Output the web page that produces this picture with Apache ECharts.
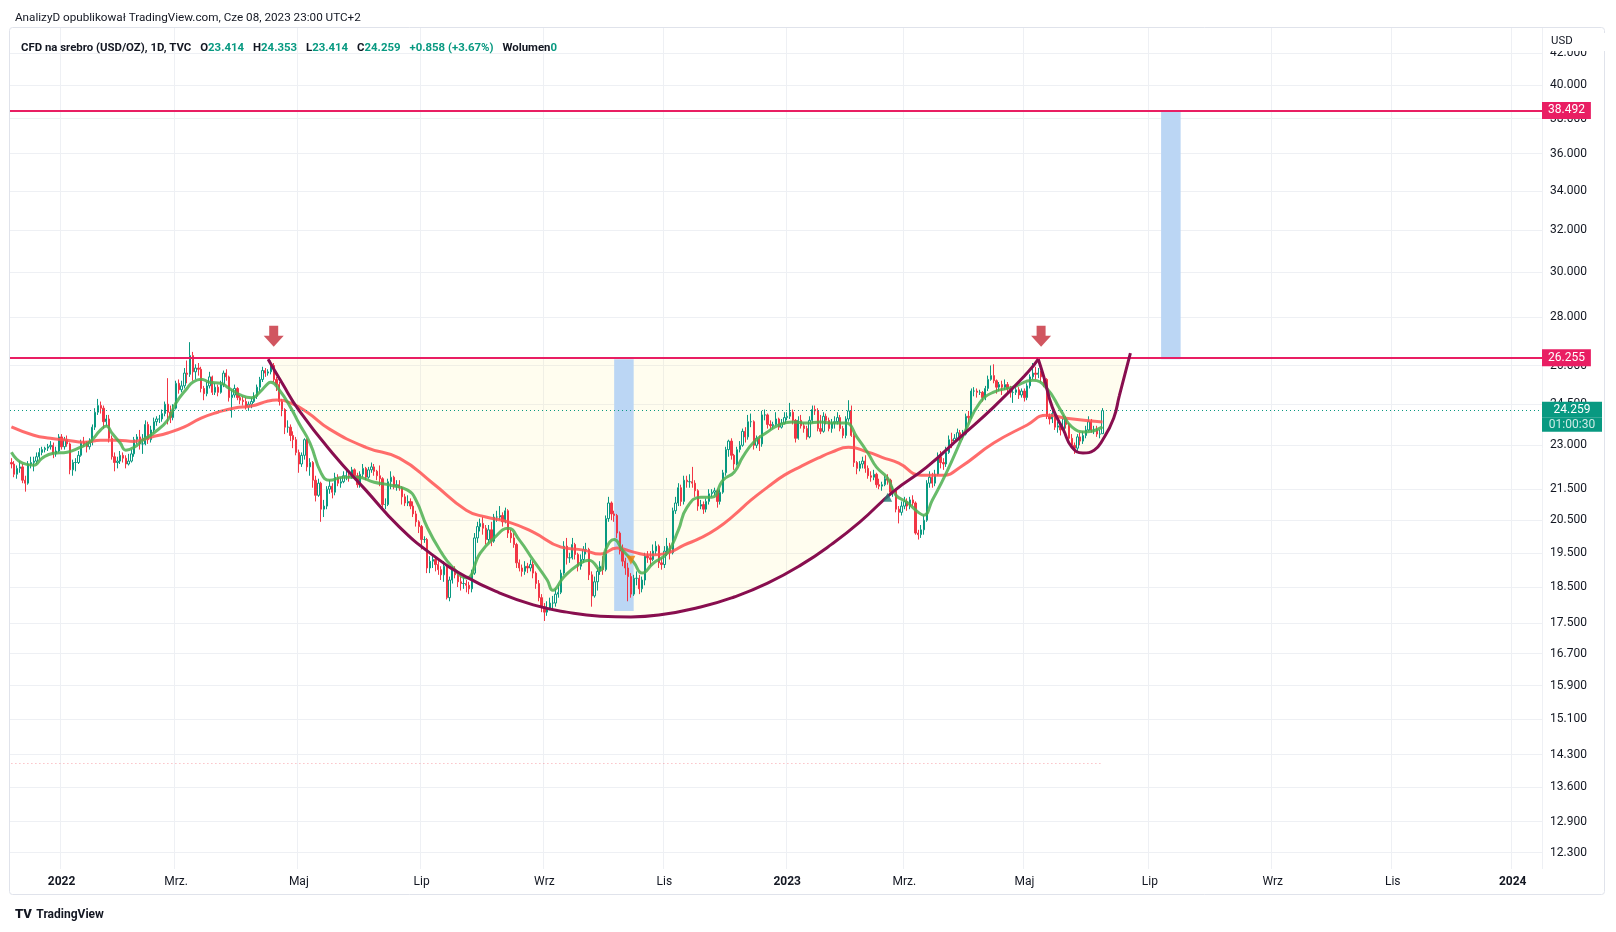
<!DOCTYPE html>
<html><head><meta charset="utf-8">
<script src="https://cdn.jsdelivr.net/npm/echarts@6/dist/echarts.min.js"></script>
<style>html,body{margin:0;padding:0;background:#fff}#c{width:1616px;height:932px}</style>
</head><body><div id="c"></div>
<script>
// ---------- DATA ----------
const firstDay = [2021, 11, 8];      // first visible trading day (Dec 8 2021)
const categoryCount = 549;           // weekdays shown on the time scale (to Jan 15 2024)
const tickDates  = ['2022-01-03','2022-03-01','2022-05-02','2022-07-01','2022-09-01','2022-11-01','2023-01-02','2023-03-01','2023-05-01','2023-07-03','2023-09-01','2023-11-01','2024-01-01'];
const tickLabels = ['2022','Mrz.','Maj','Lip','Wrz','Lis','2023','Mrz.','Maj','Lip','Wrz','Lis','2024'];
const priceTicks = [42,40,38,36,34,32,30,28,26,24.5,23,21.5,20.5,19.5,18.5,17.5,16.7,15.9,15.1,14.3,13.6,12.9,12.3];
const priceMin = 11.996, priceMax = 43.67;

const opens = [
22.40,22.35,22.00,
22.20,22.25,21.80,21.70,22.35,
22.40,22.45,22.60,22.75,22.85,
22.90,22.95,23.00,22.70,22.80,
23.30,22.95,23.20,23.05,22.15,
22.40,22.40,22.65,23.10,23.05,
22.95,23.10,23.65,24.20,24.45,
24.35,23.85,23.95,23.25,22.60,
22.40,22.45,22.65,22.55,22.35,
22.45,22.70,23.20,23.30,23.05,
23.05,23.75,23.20,23.55,23.85,
23.95,23.95,24.15,24.50,24.20,
24.00,24.35,25.30,25.05,25.20,
25.70,25.65,26.40,25.75,25.90,
25.85,25.10,24.90,25.20,25.55,
24.95,25.15,24.95,25.25,25.70,
25.55,24.75,24.85,25.10,24.75,
24.65,24.60,24.40,24.50,24.60,
24.80,25.15,25.45,25.80,25.70,
25.75,26.00,25.45,25.25,24.60,
24.30,23.65,23.65,23.35,23.20,
22.75,22.35,22.65,23.20,22.25,
22.40,21.80,21.30,21.70,20.85,
20.95,21.50,21.60,21.40,21.90,
21.70,21.75,21.95,21.95,21.90,
22.15,21.95,21.65,22.00,22.20,
21.90,22.15,22.25,22.10,21.95,
21.85,21.00,21.00,21.75,21.90,
21.60,21.65,21.55,21.25,21.05,
21.10,20.95,20.70,20.45,20.30,
19.90,19.90,19.05,19.25,19.30,
19.15,19.00,18.85,19.10,18.20,
18.70,19.00,18.85,18.65,18.60,
18.60,18.55,18.45,18.90,19.95,
20.30,20.40,20.25,19.90,20.20,
19.85,20.60,20.60,20.65,20.45,
20.80,20.10,19.95,19.75,19.20,
19.05,18.95,19.10,19.05,19.15,
18.90,18.60,18.20,17.95,17.80,
17.90,18.05,18.05,18.30,18.35,
18.90,19.70,19.35,19.35,19.75,
19.45,19.10,19.30,19.60,19.60,
18.85,18.25,18.65,18.95,19.10,
19.00,20.55,21.05,20.70,20.65,
20.10,19.55,19.25,19.05,18.80,
18.30,18.75,18.75,18.45,18.70,
19.40,19.35,19.30,19.55,19.70,
19.20,19.15,19.55,19.70,19.50,
20.80,21.05,21.55,21.10,21.80,
21.75,21.75,21.70,21.45,20.95,
21.00,20.85,21.10,21.35,21.40,
21.45,21.10,21.40,22.05,22.85,
23.15,22.65,22.35,22.85,23.00,
23.50,23.30,23.85,23.85,23.00,
23.25,23.05,24.10,24.10,23.75,
23.70,23.75,23.95,23.65,23.80,
24.00,24.05,24.20,23.90,23.25,
23.90,23.70,23.60,23.30,23.90,
24.30,24.25,23.60,23.50,24.05,
23.90,23.60,23.80,23.85,24.00,
23.60,23.35,23.95,24.25,23.35,
22.40,22.20,22.35,22.45,22.20,
21.95,21.90,22.00,21.65,21.60,
21.65,21.85,21.80,21.40,21.45,
20.85,20.75,20.95,21.10,20.95,
21.15,21.05,20.10,20.05,20.20,
20.50,21.70,21.90,21.70,22.00,
22.60,22.40,22.35,22.75,23.20,
23.15,23.25,23.45,23.30,23.40,
24.05,24.00,25.00,25.00,24.95,
24.95,24.75,25.10,25.45,25.60,
25.40,25.15,25.25,25.15,25.25,
25.10,24.95,24.95,25.05,24.85,
25.00,24.75,25.20,25.55,25.70,
25.65,25.70,25.55,25.45,24.05,
23.95,24.15,23.65,23.70,23.55,
23.95,23.75,23.25,23.00,22.90,
23.30,23.15,23.35,23.55,23.85,
23.55,23.55,23.40,23.414];

const highs = [
22.55,22.45,22.30,
22.45,22.35,21.95,22.45,22.60,
22.60,22.75,22.90,22.95,22.95,
23.05,23.15,23.10,22.95,23.40,
23.40,23.30,23.35,23.10,22.50,
22.55,22.80,23.20,23.30,23.15,
23.25,23.75,24.35,24.70,24.60,
24.45,24.10,24.10,23.35,22.75,
22.60,22.80,22.75,22.65,22.70,
22.85,23.30,23.40,23.55,23.40,
23.90,23.85,23.70,24.00,24.05,
24.10,24.30,24.60,25.50,24.45,
24.50,25.40,25.45,25.40,25.90,
26.20,26.95,26.55,26.05,26.10,
25.95,25.20,25.35,25.75,25.60,
25.30,25.25,25.40,25.80,25.85,
25.60,25.05,25.25,25.15,24.85,
24.80,24.75,24.60,24.75,24.95,
25.25,25.55,25.95,25.90,25.85,
26.20,26.10,25.55,25.35,24.70,
24.35,23.90,23.75,23.50,23.30,
22.85,22.75,23.25,23.25,22.55,
22.45,21.95,21.85,21.75,21.15,
21.60,21.80,21.70,22.05,22.00,
21.90,22.10,22.15,22.05,22.25,
22.20,22.05,22.10,22.35,22.25,
22.25,22.40,22.35,22.15,22.30,
21.90,21.20,21.85,22.10,21.95,
21.80,21.80,21.60,21.35,21.30,
21.20,21.10,20.80,20.50,20.35,
20.00,19.95,19.40,19.45,19.40,
19.25,19.10,19.25,19.15,18.80,
19.10,19.10,18.95,18.80,18.85,
18.70,18.65,19.00,20.10,20.45,
20.55,20.60,20.35,20.35,20.45,
20.70,20.80,20.95,20.75,20.90,
20.85,20.20,20.10,19.80,19.30,
19.15,19.25,19.20,19.30,19.25,
18.95,18.70,18.30,18.05,18.10,
18.20,18.25,18.45,18.55,19.00,
19.85,19.95,19.50,19.95,19.80,
19.50,19.45,19.70,19.80,19.65,
18.95,18.80,19.05,19.25,19.40,
20.65,21.25,21.10,20.80,20.70,
20.15,19.75,19.35,19.20,18.90,
18.85,18.95,18.85,18.80,19.50,
19.55,19.55,19.75,19.85,19.75,
19.35,19.70,19.95,19.80,20.90,
21.25,21.70,21.65,21.95,21.95,
22.00,22.25,21.80,21.50,21.15,
21.10,21.20,21.50,21.50,21.55,
21.50,21.50,22.15,22.95,23.20,
23.25,22.70,22.95,23.15,23.60,
23.65,24.10,24.15,23.90,23.35,
23.35,24.25,24.30,24.15,23.90,
23.85,24.20,24.00,23.95,24.20,
24.20,24.55,24.30,23.95,24.05,
24.10,23.80,23.70,24.05,24.45,
24.45,24.35,24.10,24.20,24.15,
24.00,23.95,24.05,24.20,24.10,
23.70,24.05,24.65,24.45,23.45,
22.45,22.45,22.60,22.65,22.30,
22.10,22.15,22.05,21.85,21.75,
21.95,22.00,21.85,21.60,21.50,
20.95,21.10,21.25,21.20,21.25,
21.30,21.10,20.20,20.35,20.65,
21.80,22.10,22.05,22.15,22.75,
22.80,22.55,22.95,23.35,23.45,
23.40,23.60,23.55,23.55,24.15,
24.25,25.10,25.15,25.10,25.05,
25.00,25.20,25.60,26.00,26.05,
25.45,25.35,25.40,25.45,25.35,
25.20,25.15,25.20,25.15,25.10,
25.10,25.30,25.65,26.10,25.95,
25.90,25.80,25.70,25.50,24.15,
24.25,24.20,23.85,23.80,24.10,
24.05,23.80,23.40,23.10,23.40,
23.45,23.50,23.70,24.05,23.95,
23.70,23.70,23.55,24.353];

const lows = [
22.20,21.90,21.85,
22.05,21.70,21.42,21.65,22.20,
22.10,22.35,22.50,22.65,22.75,
22.80,22.85,22.55,22.60,22.75,
22.85,22.85,22.95,22.00,21.95,
22.10,22.35,22.60,22.95,22.75,
22.85,23.00,23.55,24.10,24.15,
23.60,23.70,23.10,22.50,22.10,
22.20,22.35,22.40,22.20,22.30,
22.40,22.60,23.05,22.85,22.70,
23.00,23.05,23.10,23.45,23.70,
23.80,23.85,24.05,23.75,23.80,
23.90,24.30,24.90,24.95,25.10,
25.30,25.55,25.40,25.45,25.60,
24.95,24.65,24.80,25.10,24.85,
24.85,24.80,24.90,25.15,25.40,
24.60,24.00,24.75,24.65,24.50,
24.45,24.30,24.25,24.35,24.55,
24.70,25.00,25.35,25.55,25.60,
25.65,25.35,25.00,24.45,24.05,
23.40,23.45,23.15,22.90,22.65,
22.05,22.25,22.50,22.10,21.95,
21.55,21.10,21.25,20.45,20.60,
20.85,21.35,21.20,21.30,21.60,
21.55,21.70,21.80,21.75,21.85,
21.85,21.55,21.55,21.90,21.80,
21.85,22.05,21.95,21.80,21.60,
20.90,20.85,20.95,21.50,21.50,
21.45,21.45,21.00,20.95,20.95,
20.85,20.60,20.30,20.10,19.60,
19.80,18.90,18.90,19.05,18.95,
18.85,18.70,18.65,18.15,18.10,
18.60,18.75,18.50,18.40,18.45,
18.35,18.30,18.35,18.85,19.80,
20.15,20.05,19.75,19.80,19.70,
19.80,20.45,20.50,20.30,20.40,
19.95,19.80,19.65,19.05,18.95,
18.80,18.85,18.90,18.95,18.75,
18.45,18.10,17.80,17.56,17.70,
17.85,17.90,17.95,18.20,18.30,
18.85,19.15,19.20,19.30,19.30,
18.95,19.00,19.20,19.45,18.70,
17.95,18.20,18.40,18.85,18.85,
18.95,20.45,20.50,20.45,19.95,
19.45,19.10,18.85,18.10,18.20,
18.25,18.55,18.30,18.35,18.55,
19.20,19.10,19.25,19.45,19.05,
19.00,19.05,19.40,19.30,19.45,
20.70,20.95,20.95,21.00,21.55,
21.55,21.55,21.25,20.80,20.85,
20.70,20.75,21.00,21.25,21.30,
20.90,21.00,21.35,21.95,22.60,
22.50,22.15,22.30,22.75,22.95,
23.10,23.20,23.65,22.85,22.90,
22.80,22.95,23.90,23.60,23.55,
23.60,23.70,23.55,23.60,23.75,
23.90,23.95,23.75,23.10,23.20,
23.60,23.45,23.20,23.25,23.80,
24.10,23.50,23.40,23.45,23.75,
23.50,23.45,23.60,23.75,23.50,
23.25,23.25,23.85,23.30,22.25,
22.00,22.10,22.20,22.05,21.85,
21.75,21.80,21.55,21.50,21.45,
21.60,21.65,21.30,21.25,20.75,
20.40,20.65,20.85,20.80,20.85,
20.95,20.05,19.90,19.95,20.05,
20.45,21.55,21.55,21.60,21.95,
22.20,22.15,22.25,22.70,22.90,
23.05,23.20,23.15,23.20,23.35,
23.80,23.95,24.80,24.75,24.85,
24.60,24.65,25.00,25.40,25.30,
24.90,25.00,24.85,25.05,24.95,
24.75,24.55,24.85,24.70,24.75,
24.60,24.65,25.10,25.45,25.45,
25.50,25.35,25.15,23.95,23.75,
23.80,23.55,23.45,23.35,23.50,
23.60,23.15,22.90,22.70,22.80,
23.00,23.05,23.25,23.50,23.45,
23.40,23.30,23.25,23.414];

const closes = [
22.35,22.00,22.20,
22.25,21.80,21.70,22.35,22.40,
22.45,22.60,22.75,22.85,22.90,
22.95,23.00,22.70,22.80,23.30,
22.95,23.20,23.05,22.15,22.40,
22.40,22.65,23.10,23.05,22.95,
23.10,23.65,24.20,24.45,24.35,
23.85,23.95,23.25,22.60,22.40,
22.45,22.65,22.55,22.35,22.45,
22.70,23.20,23.30,23.05,23.05,
23.75,23.20,23.55,23.85,23.95,
23.95,24.15,24.50,24.20,24.00,
24.35,25.30,25.05,25.20,25.70,
25.65,26.40,25.75,25.90,25.85,
25.10,24.90,25.20,25.55,24.95,
25.15,24.95,25.25,25.70,25.55,
24.75,24.85,25.10,24.75,24.65,
24.60,24.40,24.50,24.60,24.80,
25.15,25.45,25.80,25.70,25.75,
26.00,25.45,25.25,24.60,24.30,
23.65,23.65,23.35,23.20,22.75,
22.35,22.65,23.20,22.25,22.40,
21.80,21.30,21.70,20.85,20.95,
21.50,21.60,21.40,21.90,21.70,
21.75,21.95,21.95,21.90,22.15,
21.95,21.65,22.00,22.20,21.90,
22.15,22.25,22.10,21.95,21.85,
21.00,21.00,21.75,21.90,21.60,
21.65,21.55,21.25,21.05,21.10,
20.95,20.70,20.45,20.30,19.90,
19.90,19.05,19.25,19.30,19.15,
19.00,18.85,19.10,18.20,18.70,
19.00,18.85,18.65,18.60,18.60,
18.55,18.45,18.90,19.95,20.30,
20.40,20.25,19.90,20.20,19.85,
20.60,20.60,20.65,20.45,20.80,
20.10,19.95,19.75,19.20,19.05,
18.95,19.10,19.05,19.15,18.90,
18.60,18.20,17.95,17.80,17.90,
18.05,18.05,18.30,18.35,18.90,
19.70,19.35,19.35,19.75,19.45,
19.10,19.30,19.60,19.60,18.85,
18.25,18.65,18.95,19.10,19.00,
20.55,21.05,20.70,20.65,20.10,
19.55,19.25,19.05,18.80,18.30,
18.75,18.75,18.45,18.70,19.40,
19.35,19.30,19.55,19.70,19.20,
19.15,19.55,19.70,19.50,20.80,
21.05,21.55,21.10,21.80,21.75,
21.75,21.70,21.45,20.95,21.00,
20.85,21.10,21.35,21.40,21.45,
21.10,21.40,22.05,22.85,23.15,
22.65,22.35,22.85,23.00,23.50,
23.30,23.85,23.85,23.00,23.25,
23.05,24.10,24.10,23.75,23.70,
23.75,23.95,23.65,23.80,24.00,
24.05,24.20,23.90,23.25,23.90,
23.70,23.60,23.30,23.90,24.30,
24.25,23.60,23.50,24.05,23.90,
23.60,23.80,23.85,24.00,23.60,
23.35,23.95,24.25,23.35,22.40,
22.20,22.35,22.45,22.20,21.95,
21.90,22.00,21.65,21.60,21.65,
21.85,21.80,21.40,21.45,20.85,
20.75,20.95,21.10,20.95,21.15,
21.05,20.10,20.05,20.20,20.50,
21.70,21.90,21.70,22.00,22.60,
22.40,22.35,22.75,23.20,23.15,
23.25,23.45,23.30,23.40,24.05,
24.00,25.00,25.00,24.95,24.95,
24.75,25.10,25.45,25.60,25.40,
25.15,25.25,25.15,25.25,25.10,
24.95,24.95,25.05,24.85,25.00,
24.75,25.20,25.55,25.70,25.65,
25.70,25.55,25.45,24.05,23.95,
24.15,23.65,23.70,23.55,23.95,
23.75,23.25,23.00,22.90,23.30,
23.15,23.35,23.55,23.85,23.55,
23.55,23.40,23.401,24.259];

// moving averages: [bar index, price]
const maFast = [[0,22.76],[4,22.38],[8,22.31],[11,22.55],[15,22.72],[20,22.76],[24,22.90],[28,23.11],[32,23.55],[34,23.69],[36,23.44],[39,23.08],[41,22.83],[44,22.93],[47,23.18],[51,23.44],[56,23.91],[59,24.55],[63,25.11],[65,25.34],[68,25.46],[71,25.34],[75,25.30],[78,25.11],[82,24.85],[86,24.74],[89,24.96],[92,25.30],[93,25.34],[96,25.04],[100,24.39],[103,23.80],[107,23.08],[111,22.04],[114,21.80],[119,21.90],[124,21.90],[130,21.73],[136,21.63],[142,21.47],[145,21.14],[149,20.28],[154,19.52],[158,19.08],[163,18.76],[168,19.49],[173,19.95],[178,20.25],[182,19.89],[187,19.28],[192,18.70],[194,18.41],[198,18.79],[203,19.14],[207,19.28],[211,18.99],[213,19.60],[216,19.90],[219,19.58],[223,19.22],[226,18.90],[230,19.19],[235,19.49],[239,20.19],[242,20.89],[247,21.24],[251,21.24],[255,21.80],[259,22.07],[262,22.58],[266,23.11],[271,23.48],[275,23.73],[280,23.84],[285,23.80],[290,23.84],[294,23.80],[299,23.80],[303,23.29],[307,22.72],[310,22.24],[314,21.87],[317,21.30],[321,21.07],[325,20.75],[327,20.66],[330,21.14],[335,22.04],[342,23.55],[347,24.55],[352,24.96],[359,25.15],[366,25.42],[371,25.11],[376,24.28],[380,23.66],[385,23.48],[391,23.66]];
const maSlow = [[0,23.66],[8,23.36],[14,23.25],[20,23.18],[26,23.11],[32,23.18],[38,23.18],[44,23.14],[50,23.29],[56,23.44],[62,23.66],[68,23.98],[74,24.20],[80,24.36],[86,24.43],[92,24.62],[95,24.66],[100,24.55],[106,24.20],[114,23.58],[127,22.93],[139,22.55],[151,21.70],[163,20.82],[170,20.60],[178,20.45],[187,20.13],[197,19.67],[205,19.58],[211,19.46],[217,19.64],[223,19.52],[229,19.43],[235,19.49],[241,19.73],[247,19.95],[253,20.25],[259,20.66],[265,21.14],[271,21.57],[277,21.97],[283,22.27],[289,22.55],[294,22.76],[300,22.93],[307,22.76],[312,22.58],[318,22.38],[326,21.97],[334,21.97],[340,22.24],[352,23.08],[364,23.73],[371,24.09],[378,23.98],[391,23.84]];

// drawings: cup arc, handle arc, levels, arrows, projection boxes
const cupArc = [[92,26.255],[97,25.31],[103,24.28],[115,22.73],[127,21.47],[139,20.29],[151,19.43],[163,18.79],[175,18.33],[187,18.00],[199,17.80],[211,17.69],[222,17.67],[232,17.72],[247,17.94],[259,18.22],[271,18.61],[283,19.14],[294,19.76],[304,20.44],[316,21.42],[328,22.24],[340,23.29],[352,24.39],[364,25.70],[368,26.255]];
const handleArc = [[368,26.255],[370,25.54],[373,24.39],[377,23.55],[380,22.94],[384,22.73],[388,22.83],[391,23.18],[395,23.98],[397,24.81],[401,26.50]];
const neckline = 26.255, targetLevel = 38.492, lowLevel = 14.12;
const arrowBars = [94, 369], arrowPrice = 27.2;
const sellSignal = [222, 19.28], buySignal = [314, 21.24];
const boxes = [[216, 223, 26.255, 17.83], [412, 419, 38.492, 26.255]];
const countdown = '01:00:30';

// ---------- BUILD ----------
const L = Math.log;
const categories = [];
{ const d = new Date(Date.UTC(firstDay[0], firstDay[1], firstDay[2]));
  while (categories.length < categoryCount) { const w = d.getUTCDay(); if (w !== 0 && w !== 6) categories.push(d.toISOString().slice(0, 10)); d.setUTCDate(d.getUTCDate() + 1); } }
const tickSet = new Set(tickDates);
const candleData = opens.map((o, i) => [L(o), L(closes[i]), L(lows[i]), L(highs[i])]);
const toPts = arr => arr.map(p => [p[0], L(p[1])]);
const last = closes.length - 1;
const f3 = v => v.toFixed(3);
const chg = closes[last] - closes[last - 1];
const pct = chg / closes[last - 1] * 100;
const FONT = 'Roboto, "Noto Sans", sans-serif';
const TXT = '#131722', UP = '#089981', DOWN = '#F23645', PINK = '#E91E63';

const pinkLabel = txt => ({ show: true, position: 'end', distance: 0, formatter: txt, backgroundColor: PINK, color: '#fff', fontSize: 12, fontFamily: FONT, padding: [2, 6, 1, 6], lineHeight: 14 });

const option = {
  animation: false,
  backgroundColor: '#ffffff',
  textStyle: { fontFamily: FONT },
  title: [
    { text: 'AnalizyD opublikował TradingView.com, Cze 08, 2023 23:00 UTC+2', left: 10, top: 7, textStyle: { fontSize: 11.7, fontWeight: 'normal', color: TXT, fontFamily: FONT } },
    { text: `{t|CFD na srebro (USD/OZ), 1D, TVC}  {t|O}{v|${f3(opens[last])}}  {t|H}{v|${f3(highs[last])}}  {t|L}{v|${f3(lows[last])}}  {t|C}{v|${f3(closes[last])}}  {v|${chg >= 0 ? '+' : ''}${chg.toFixed(3)} (${chg >= 0 ? '+' : ''}${pct.toFixed(2)}%)}  {t|Wolumen}{v|0}`,
      left: 16, top: 34, textStyle: { rich: { t: { fontSize: 11.4, color: TXT, fontFamily: FONT }, v: { fontSize: 11.4, color: UP, fontFamily: FONT } } } },
    { text: 'USD', left: 1544, top: 33, z: 10, backgroundColor: '#ffffff', padding: [1, 40, 3, 7], textStyle: { fontSize: 11.4, fontWeight: 'normal', color: TXT, fontFamily: FONT, lineHeight: 14 } },
    { text: '{l|TV} {t|TradingView}', left: 10, top: 901, textStyle: { rich: { l: { fontSize: 13, fontWeight: 900, color: '#131722', fontFamily: FONT }, t: { fontSize: 12, fontWeight: 'bold', color: '#131722', fontFamily: FONT } } } }
  ],
  graphic: [
    { type: 'rect', shape: { x: 9.5, y: 27.5, width: 1595, height: 867, r: 3 }, style: { fill: 'none', stroke: '#e0e3eb', lineWidth: 1 }, silent: true, z: -1 }
  ],
  grid: { left: 10, right: 74, top: 28, bottom: 63 },
  xAxis: {
    type: 'category', data: categories, boundaryGap: true,
    axisLine: { show: false }, axisTick: { show: false },
    axisLabel: {
      interval: (i, v) => tickSet.has(v), margin: 7, color: TXT, fontSize: 12, fontFamily: FONT,
      formatter: v => { const t = tickLabels[tickDates.indexOf(v)] || ''; return /^\d{4}$/.test(t) ? '{y|' + t + '}' : t; },
      rich: { y: { fontWeight: 'bold', fontSize: 12, color: TXT, fontFamily: FONT } }
    },
    splitLine: { show: true, interval: (i, v) => tickSet.has(v), lineStyle: { color: '#eef0f4', width: 1 } }
  },
  yAxis: {
    type: 'value', position: 'right', min: L(priceMin), max: L(priceMax),
    axisLine: { show: false },
    axisTick: { show: false, customValues: priceTicks.map(L) },
    axisLabel: { customValues: priceTicks.map(L), formatter: v => Math.exp(v).toFixed(3), color: TXT, fontSize: 12, margin: 8, fontFamily: FONT },
    splitLine: { show: true, lineStyle: { color: '#eef0f4', width: 1 } }
  },
  series: [
    { // cup fill
      type: 'line', data: toPts(cupArc), smooth: 0.5, showSymbol: false, silent: true,
      lineStyle: { width: 0 }, areaStyle: { origin: L(neckline), color: 'rgba(255,236,120,0.17)' }, z: 1 },
    { type: 'line', data: toPts(handleArc), smooth: 0.5, showSymbol: false, silent: true,
      lineStyle: { width: 0 }, areaStyle: { origin: L(neckline), color: 'rgba(255,236,120,0.17)' }, z: 1 },
    { // projection boxes
      type: 'line', data: [], silent: true, z: 2,
      markArea: { silent: true, z: 2, itemStyle: { color: '#bbd6f4' },
        data: boxes.map(b => [{ xAxis: categories[b[0]], yAxis: L(b[2]) }, { xAxis: categories[b[1]], yAxis: L(b[3]) }]) } },
    { type: 'candlestick', data: candleData, barWidth: 1.8, z: 3,
      itemStyle: { color: '#ffffff', color0: DOWN, borderColor: UP, borderColor0: DOWN, borderWidth: 1 } },
    { type: 'line', data: toPts(maSlow), smooth: 0.5, showSymbol: false, silent: true, z: 4,
      lineStyle: { color: '#FF5252', width: 3, opacity: 0.85 } },
    { type: 'line', data: toPts(maFast), smooth: 0.5, showSymbol: false, silent: true, z: 4,
      lineStyle: { color: '#4CAF50', width: 3, opacity: 0.85 } },
    { type: 'line', data: toPts(cupArc), smooth: 0.5, showSymbol: false, silent: true, z: 5,
      lineStyle: { color: '#880E4F', width: 3 } },
    { type: 'line', data: toPts(handleArc), smooth: 0.5, showSymbol: false, silent: true, z: 5,
      lineStyle: { color: '#880E4F', width: 3 } },
    { // levels
      type: 'line', data: [], z: 6, silent: true,
      markLine: { symbol: ['none', 'none'], silent: true, animation: false,
        data: [
          [{ coord: [categories[0], L(lowLevel)], lineStyle: { color: 'rgba(242,54,69,0.45)', width: 1, type: [1, 3] }, label: { show: false } }, { coord: [categories[last], L(lowLevel)] }],
          { yAxis: L(targetLevel), lineStyle: { color: PINK, width: 2, type: 'solid' }, label: pinkLabel(f3(targetLevel)) },
          { yAxis: L(neckline), lineStyle: { color: PINK, width: 2, type: 'solid' }, label: pinkLabel(f3(neckline)) },
          { yAxis: L(closes[last]), lineStyle: { color: UP, width: 1, type: [1, 3] },
            label: { show: true, position: 'end', distance: 0,
              formatter: '{s| }\n{a|' + f3(closes[last]) + '}\n{b|' + countdown + '}',
              rich: {
                s: { height: 14, lineHeight: 14, width: 60, fontSize: 11 },
                a: { width: 60, height: 16, lineHeight: 16, align: 'center', backgroundColor: UP, color: '#fff', fontSize: 12, fontFamily: FONT },
                b: { width: 60, height: 14, lineHeight: 14, align: 'center', backgroundColor: UP, color: 'rgba(255,255,255,0.8)', fontSize: 12, fontFamily: FONT }
              } } }
        ] }
    },
    { type: 'scatter', z: 7, silent: true, symbol: 'path://M5.5,0 H14.5 V10 H20 L10,21 L0,10 H5.5 Z', symbolSize: [20, 21],
      itemStyle: { color: '#C62C38' }, data: arrowBars.map(b => [b, L(arrowPrice)]) },
    { type: 'scatter', z: 7, silent: true, symbol: 'triangle', symbolSize: 9, symbolRotate: 180,
      itemStyle: { color: '#F57C00' }, data: [[sellSignal[0], L(sellSignal[1])]] },
    { type: 'scatter', z: 7, silent: true, symbol: 'triangle', symbolSize: 9,
      itemStyle: { color: '#1B7A72' }, data: [[buySignal[0], L(buySignal[1])]] }
  ]
};
const chart = echarts.init(document.getElementById('c'));
chart.setOption(option);
</script>
</body></html>
